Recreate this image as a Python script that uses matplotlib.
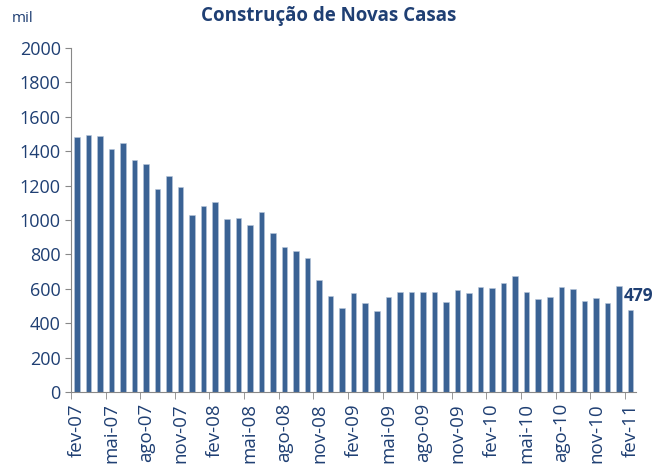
import matplotlib.pyplot as plt
import numpy as np

# monthly housing starts, thousands (fev-07 .. fev-11)
months = ['fev', 'mar', 'abr', 'mai', 'jun', 'jul', 'ago', 'set', 'out', 'nov', 'dez', 'jan']
labels = []
for i in range(49):
    m = months[i % 12]
    yr = 7 + (i + 1) // 12
    labels.append(f'{m}-{yr:02d}')

values = [1480, 1495, 1486, 1413, 1446, 1349, 1324, 1180, 1258, 1194,
          1031, 1083, 1103, 1004, 1010, 973, 1045, 922, 843, 818,
          779, 649, 558, 486, 577, 517, 473, 550, 583, 583,
          583, 583, 525, 591, 577, 610, 603, 636, 674, 583,
          539, 550, 610, 597, 531, 545, 517, 616, 479]

text_color = '#1F3F73'
bar_color = '#3A6294'

plt.rcParams['font.family'] = ['Open Sans', 'DejaVu Sans']

fig = plt.figure(figsize=(6.58, 4.70), dpi=100)
ax = fig.add_axes([0.108, 0.166, 0.859, 0.732])

x = np.arange(len(values))
ax.bar(x, values, width=0.48, color=bar_color, edgecolor='#B8C6DA', linewidth=0.4)

ax.set_xlim(-0.5, len(values) - 0.5)
ax.set_ylim(0, 2000)
ax.set_yticks(range(0, 2001, 200))
ax.tick_params(axis='y', colors='#888888', labelcolor=text_color, labelsize=13, length=4)

ax.set_xticks(x[::3])
ax.set_xticklabels(labels[::3], rotation=90)
ax.set_xticks(np.arange(-0.5, len(values), 3), minor=True)
ax.tick_params(axis='x', which='major', length=0, labelsize=13.5, labelcolor=text_color, pad=8)
ax.tick_params(axis='x', which='minor', length=5, color='#888888')

for s in ['top', 'right']:
    ax.spines[s].set_visible(False)
for s in ['left', 'bottom']:
    ax.spines[s].set_color('#888888')

ax.text(len(values) - 1.55, values[-1] + 25, str(values[-1]), color=text_color,
        fontsize=12.5, fontweight='bold', ha='left', va='bottom')

fig.text(0.5, 0.965, 'Construção de Novas Casas', color=text_color, fontsize=13.5,
         fontweight='bold', ha='center', va='center')
fig.text(0.018, 0.96, 'mil', color=text_color, fontsize=11, ha='left', va='center')

fig.savefig('out.png', dpi=100)
